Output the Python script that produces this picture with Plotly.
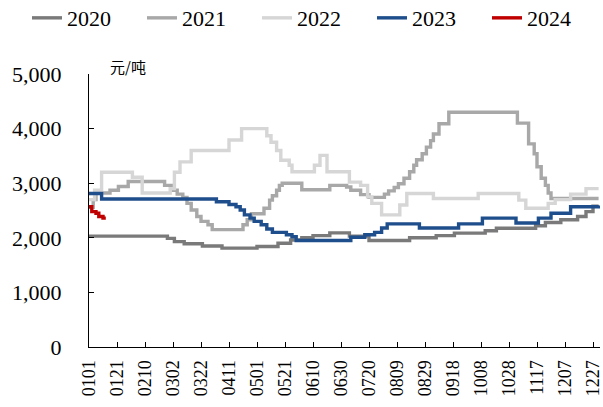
import plotly.graph_objects as go

# change-point dates (MMDD) and values (元/吨), step series
d2020 = ["0101","0226","0303","0310","0323","0406","0501","0516","0525","0602","0610","0622",
         "0706","0720","0818","0906","0919","1011","1019","1116","1123","1204","1216","1222","1227","1231"]
v2020 = [2030,1990,1930,1890,1850,1810,1840,1900,1960,2000,2040,2090,
         2030,1950,2000,2040,2085,2130,2175,2220,2280,2330,2390,2480,2580,2580]

d2021 = ["0101","0104","0106","0116","0122","0129","0224","0302","0305","0309","0312","0315","0319",
         "0322","0327","0330","0421","0424","0427","0506","0510","0512","0515","0517","0519","0602",
         "0622","0704","0707","0714","0720","0731","0803","0807","0810","0814","0818","0821","0823",
         "0827","0830","0902","0904","0908","0915","1103","1111","1115","1117","1120","1123","1125",
         "1127","1231"]
v2021 = [2560,2700,2820,2870,2940,3030,2960,2870,2800,2740,2630,2510,2390,
         2300,2240,2150,2240,2330,2440,2540,2690,2770,2870,2960,3000,2880,
         2960,2930,2870,2790,2740,2800,2860,2920,2990,3090,3210,3330,3430,
         3540,3660,3780,3900,4090,4300,4100,3720,3540,3300,3090,2960,2820,
         2720,2720]

d2022 = ["0101","0105","0110","0201","0208","0228","0303","0307","0315","0411","0420","0508","0511",
         "0515","0518","0524","0526","0611","0615","0620","0706","0714","0719","0722","0729","0811",
         "0816","0904","1006","1104","1109","1125","1130","1211","1222","1231"]
v2022 = [2700,2870,3200,3110,2820,2900,3200,3390,3600,3790,4000,3870,3750,
         3600,3420,3330,3210,3330,3510,3210,3020,2960,2750,2630,2420,2600,
         2810,2720,2810,2690,2540,2630,2700,2800,2900,2900]

d2023 = ["0101","0110","0402","0411","0416","0419","0422","0426","0429","0504","0508","0512","0522",
         "0526","0529","0707","0717","0724","0729","0802","0825","0922","1009","1102","1118","1127",
         "1211","1231"]
v2023 = [2810,2710,2660,2610,2570,2510,2420,2360,2300,2240,2160,2100,2055,
         2020,1950,2010,2055,2100,2180,2255,2180,2255,2360,2270,2360,2450,
         2570,2590]

d2024 = ["0101","0103","0106","0108","0111","0113"]
v2024 = [2570,2480,2450,2390,2360,2360]

x_tick_labels = ["0101","0121","0210","0302","0322","0411","0501","0521","0610","0630",
                 "0720","0809","0829","0918","1008","1028","1117","1207","1227"]
y_tick_values = [0, 1000, 2000, 3000, 4000, 5000]

series = [("2020", d2020, v2020, "#7a7a7a"),
          ("2021", d2021, v2021, "#a8a8a8"),
          ("2022", d2022, v2022, "#d6d6d6"),
          ("2023", d2023, v2023, "#1f4e8c"),
          ("2024", d2024, v2024, "#c00000")]

SERIF = "Liberation Serif"

def to_date(s):
    return "2023-" + s[:2] + "-" + s[2:]

fig = go.Figure()
for name, d, v, c in series:
    fig.add_trace(go.Scatter(
        x=[to_date(s) for s in d], y=v, name=name,
        mode="lines", line=dict(color=c, width=3.4, shape="hv")))

fig.update_layout(
    width=603, height=407,
    margin=dict(l=89, r=3, t=74, b=60, autoexpand=False),
    paper_bgcolor="white", plot_bgcolor="white",
    font=dict(family=SERIF, size=22, color="black"),
    legend=dict(orientation="h", xref="paper", yref="paper",
                x=-0.1213, y=1.205, xanchor="left", yanchor="middle",
                font=dict(family=SERIF, size=22, color="black"),
                bgcolor="rgba(0,0,0,0)", entrywidth=70, entrywidthmode="pixels"),
    annotations=[dict(text="元/吨", xref="paper", yref="paper", x=0.037, y=1.028,
                      xanchor="left", yanchor="middle", showarrow=False,
                      font=dict(family="Noto Sans CJK SC", size=15, color="black"))],
)
fig.update_xaxes(type="date", range=["2023-01-01", "2024-01-01"], automargin=False,
                 tickmode="array", tickvals=[to_date(s) for s in x_tick_labels],
                 ticktext=x_tick_labels,
                 tickangle=-90, showline=True, linecolor="black", linewidth=1,
                 ticks="inside", ticklen=5, tickcolor="black", showgrid=False,
                 zeroline=False, ticklabelstandoff=5, ticklabeloverflow="allow",
                 tickfont=dict(family=SERIF, size=18, color="black"))
fig.update_yaxes(range=[0, 5000], tickmode="array", tickvals=y_tick_values,
                 tickformat=",", automargin=False,
                 showline=True, linecolor="black", linewidth=1,
                 ticks="inside", ticklen=5, tickcolor="black", showgrid=False,
                 zeroline=False, ticklabelstandoff=22,
                 tickfont=dict(family=SERIF, size=22, color="black"))

fig.write_html("out.html")
